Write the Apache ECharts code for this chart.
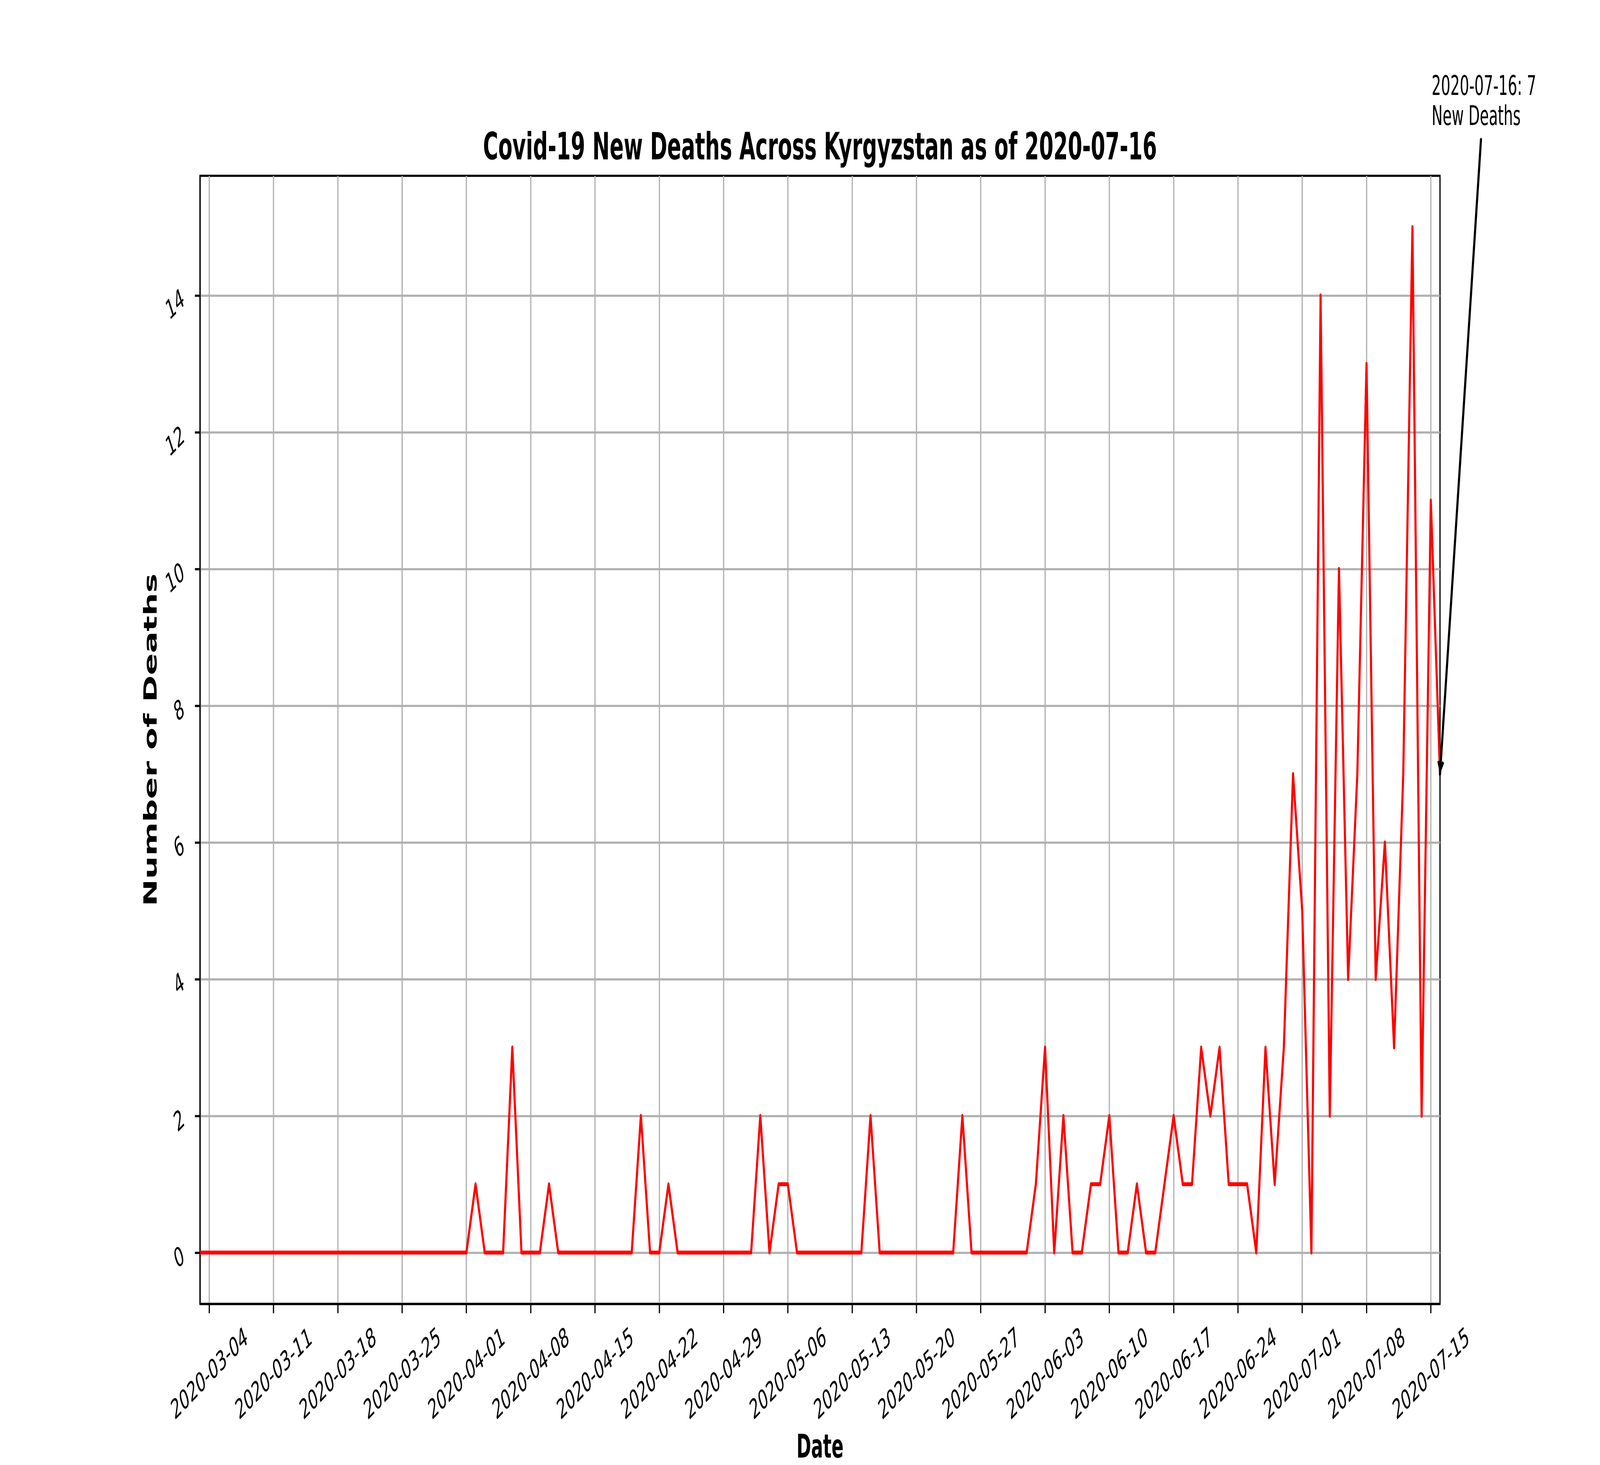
<!DOCTYPE html>
<html>
<head>
<meta charset="utf-8">
<script src="https://cdn.jsdelivr.net/npm/echarts@6/dist/echarts.min.js"></script>
<style>html,body{margin:0;padding:0;background:#fff;overflow:hidden}#c{position:absolute;left:0;top:0;width:7500px;height:3750px;transform-origin:0 0}</style>
</head>
<body>
<div id="c"></div>
<script>
// ---- data ----
const dates = [
 '2020-03-03','2020-03-04','2020-03-05','2020-03-06','2020-03-07','2020-03-08','2020-03-09','2020-03-10',
 '2020-03-11','2020-03-12','2020-03-13','2020-03-14','2020-03-15','2020-03-16','2020-03-17','2020-03-18',
 '2020-03-19','2020-03-20','2020-03-21','2020-03-22','2020-03-23','2020-03-24','2020-03-25','2020-03-26',
 '2020-03-27','2020-03-28','2020-03-29','2020-03-30','2020-03-31',
 '2020-04-01','2020-04-02','2020-04-03','2020-04-04','2020-04-05','2020-04-06','2020-04-07','2020-04-08',
 '2020-04-09','2020-04-10','2020-04-11','2020-04-12','2020-04-13','2020-04-14','2020-04-15','2020-04-16',
 '2020-04-17','2020-04-18','2020-04-19','2020-04-20','2020-04-21','2020-04-22','2020-04-23','2020-04-24',
 '2020-04-25','2020-04-26','2020-04-27','2020-04-28','2020-04-29','2020-04-30',
 '2020-05-01','2020-05-02','2020-05-03','2020-05-04','2020-05-05','2020-05-06','2020-05-07','2020-05-08',
 '2020-05-09','2020-05-10','2020-05-11','2020-05-12','2020-05-13','2020-05-14','2020-05-15','2020-05-16',
 '2020-05-17','2020-05-18','2020-05-19','2020-05-20','2020-05-21','2020-05-22','2020-05-23','2020-05-24',
 '2020-05-25','2020-05-26','2020-05-27','2020-05-28','2020-05-29','2020-05-30','2020-05-31',
 '2020-06-01','2020-06-02','2020-06-03','2020-06-04','2020-06-05','2020-06-06','2020-06-07','2020-06-08',
 '2020-06-09','2020-06-10','2020-06-11','2020-06-12','2020-06-13','2020-06-14','2020-06-15','2020-06-16',
 '2020-06-17','2020-06-18','2020-06-19','2020-06-20','2020-06-21','2020-06-22','2020-06-23','2020-06-24',
 '2020-06-25','2020-06-26','2020-06-27','2020-06-28','2020-06-29','2020-06-30',
 '2020-07-01','2020-07-02','2020-07-03','2020-07-04','2020-07-05','2020-07-06','2020-07-07','2020-07-08',
 '2020-07-09','2020-07-10','2020-07-11','2020-07-12','2020-07-13','2020-07-14','2020-07-15','2020-07-16'
];
const newDeaths = [
 // March 3-31
 0,0,0,0,0,0,0,0,0,0,0,0,0,0,0,0,0,0,0,0,0,0,0,0,0,0,0,0,0,
 // April
 0,1,0,0,0,3,0,0,0,1,0,0,0,0,0,0,0,0,0,2,0,0,1,0,0,0,0,0,0,0,
 // May
 0,0,2,0,1,1,0,0,0,0,0,0,0,0,2,0,0,0,0,0,0,0,0,0,2,0,0,0,0,0,0,
 // June
 0,1,3,0,2,0,0,1,1,2,0,0,1,0,0,1,2,1,1,3,2,3,1,1,1,0,3,1,3,7,
 // July 1-16
 5,0,14,2,10,4,7,13,4,6,3,7,15,2,11,7
];
const xTickDates = [
 '2020-03-04','2020-03-11','2020-03-18','2020-03-25','2020-04-01','2020-04-08','2020-04-15',
 '2020-04-22','2020-04-29','2020-05-06','2020-05-13','2020-05-20','2020-05-27','2020-06-03',
 '2020-06-10','2020-06-17','2020-06-24','2020-07-01','2020-07-08','2020-07-15'
];
const yTicks = [0, 2, 4, 6, 8, 10, 12, 14];
const titleText = 'Covid-19 New Deaths Across Kyrgyzstan as of 2020-07-16';
const xAxisTitle = 'Date';
const yAxisTitle = 'Number of Deaths';
const annotationDate = '2020-07-16';
const annotationValue = 7;

// ---- chart: laid out on a 7500 x 3750 surface, fitted to the actual window ----
const FONT = 'DejaVu Sans';
const el = document.getElementById('c');
const vw = window.innerWidth || document.documentElement.clientWidth || 7500;
const vh = window.innerHeight || document.documentElement.clientHeight || 3750;
el.style.transform = 'scale(' + (vw / 7500) + ',' + (vh / 3750) + ')';
const chart = echarts.init(el, null, {renderer: 'svg', width: 7500, height: 3750});
const isXTick = (i, v) => xTickDates.indexOf(v) >= 0;
const arrowHead = 'path://M0,0 L16,30 L7.7,34.4 L0,20 L-7.7,34.4 L-16,30 Z M0,-34.4 L0.1,-34.4 L0,-34.3 Z';

chart.setOption({
  animation: false,
  backgroundColor: '#ffffff',
  grid: {left: 937.5, right: 750, top: 450, bottom: 412.5, show: true,
         borderColor: '#000', borderWidth: 5.6, backgroundColor: 'transparent'},
  xAxis: {
    type: 'category', data: dates, boundaryGap: false,
    axisLine: {show: true, onZero: false, lineStyle: {color: '#000', width: 5.6}},
    axisTick: {show: true, interval: isXTick, length: 24, lineStyle: {color: '#000', width: 5.6}},
    axisLabel: {interval: isXTick, rotate: 30, align: 'center', verticalAlign: 'middle', margin: 177,
                fontSize: 69, fontFamily: FONT, color: '#000'},
    splitLine: {show: true, interval: isXTick, lineStyle: {color: '#b0b0b0', width: 5.6}}
  },
  yAxis: {
    type: 'value', min: -0.75, max: 15.75,
    axisLine: {show: true, lineStyle: {color: '#000', width: 5.6}},
    axisTick: {show: true, customValues: yTicks, length: 24, lineStyle: {color: '#000', width: 5.6}},
    axisLabel: {customValues: yTicks, rotate: 30, margin: 80, fontSize: 69, fontFamily: FONT, color: '#000'},
    splitLine: {show: true, lineStyle: {color: '#b0b0b0', width: 5.6}}
  },
  series: [{
    type: 'line', data: newDeaths, symbol: 'none', showSymbol: false, clip: false, z: 3,
    lineStyle: {color: '#ff0000', width: 10, join: 'round'},
    itemStyle: {color: '#ff0000'},
    markLine: {
      silent: true, animation: false, label: {show: false},
      symbol: ['none', 'none'],
      lineStyle: {color: '#000', width: 10, type: 'solid', cap: 'round'},
      emphasis: {disabled: true},
      data: [[
        {x: 6942, y: 358, symbol: 'none'},
        {coord: [annotationDate, annotationValue], symbol: arrowHead, symbolSize: [32, 68.8]}
      ]]
    }
  }],
  graphic: [
    {type: 'text', x: 3843.75, y: 374, z: 10,
     style: {text: titleText, fontSize: 97, fontWeight: 'bold', fontFamily: FONT, fill: '#000',
             align: 'center', verticalAlign: 'middle', textAlign: 'center', textVerticalAlign: 'middle'}},
    {type: 'text', x: 3843.75, y: 3702, z: 10,
     style: {text: xAxisTitle, fontSize: 83, fontWeight: 'bold', fontFamily: FONT, fill: '#000',
             align: 'center', verticalAlign: 'middle', textAlign: 'center', textVerticalAlign: 'middle'}},
    {type: 'text', x: 706, y: 1893.75, rotation: Math.PI / 2, z: 10,
     style: {text: yAxisTitle, fontSize: 83, fontWeight: 'bold', fontFamily: FONT, fill: '#000',
             align: 'center', verticalAlign: 'middle', textAlign: 'center', textVerticalAlign: 'middle'}},
    {type: 'text', x: 6711, y: 180, z: 10,
     style: {text: annotationDate + ': ' + annotationValue + '\nNew Deaths', fontSize: 69, lineHeight: 77,
             fontFamily: FONT, fill: '#000',
             align: 'left', verticalAlign: 'top', textAlign: 'left', textVerticalAlign: 'top'}}
  ]
});
</script>
</body>
</html>
